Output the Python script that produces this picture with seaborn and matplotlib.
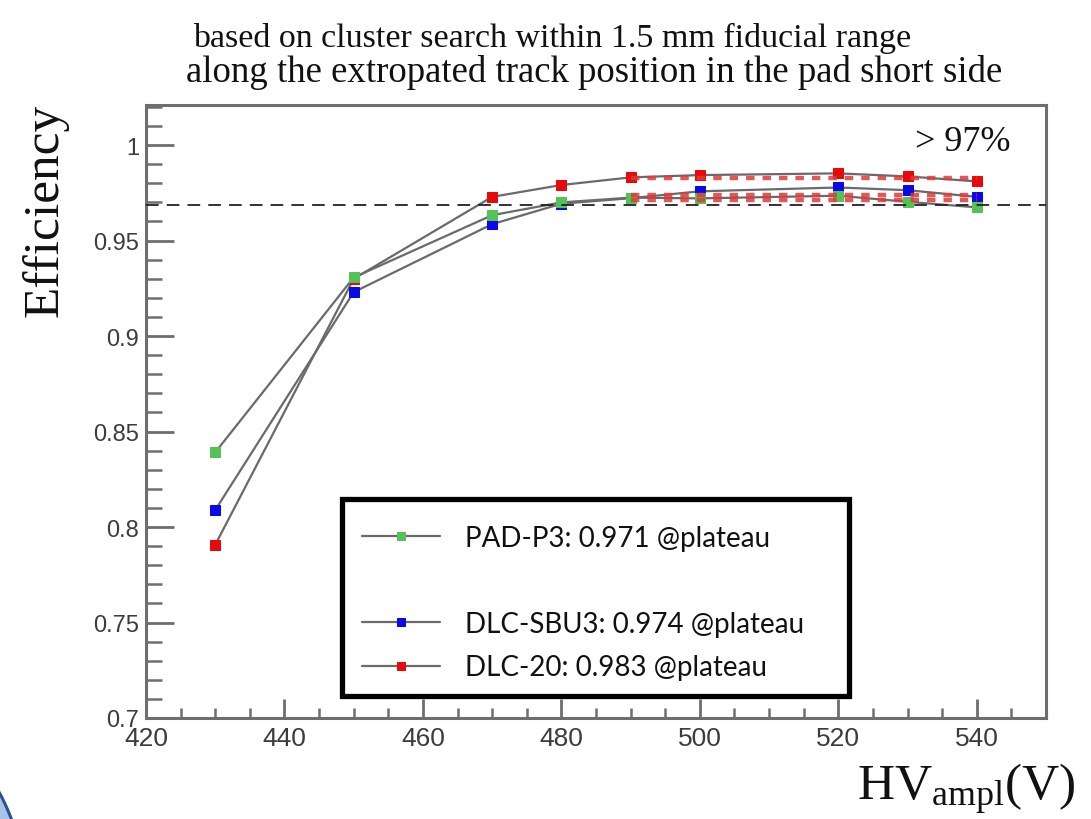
import matplotlib
matplotlib.use("Agg")
import matplotlib.pyplot as plt
from matplotlib.lines import Line2D
from matplotlib.patches import Circle, Rectangle
from matplotlib.transforms import IdentityTransform
from matplotlib.ticker import MultipleLocator, FixedLocator, FixedFormatter
import seaborn as sns
import pandas as pd

# HV scan points (V) and measured efficiencies
hv_pad = [430, 450, 470, 480, 490, 500, 520, 530, 540]
eff_pad = [0.8391, 0.9307, 0.9633, 0.9700, 0.9725, 0.9721, 0.9735, 0.9703, 0.9674]

hv_sbu3 = [430, 450, 470, 480, 490, 500, 520, 530, 540]
eff_sbu3 = [0.8089, 0.9230, 0.9586, 0.9693, 0.9722, 0.9758, 0.9778, 0.9764, 0.9729]

hv_dlc20 = [430, 450, 470, 480, 490, 500, 520, 530, 540]
eff_dlc20 = [0.7907, 0.9300, 0.9729, 0.9791, 0.9831, 0.9843, 0.9852, 0.9836, 0.9810]

series_names = ["PAD-P3", "DLC-SBU3", "DLC-20"]
plateau_values = [0.971, 0.974, 0.983]
plateau_range = [490, 540]
reference_level = 0.9685

marker_colors = {"PAD-P3": "#55c255", "DLC-SBU3": "#0a0ae6", "DLC-20": "#e60a0a"}

df = pd.concat([
    pd.DataFrame({"hv": hv_pad, "eff": eff_pad, "name": "PAD-P3"}),
    pd.DataFrame({"hv": hv_sbu3, "eff": eff_sbu3, "name": "DLC-SBU3"}),
    pd.DataFrame({"hv": hv_dlc20, "eff": eff_dlc20, "name": "DLC-20"}),
])

sns.set_theme(style="white")
plt.rcParams["font.family"] = ["Liberation Sans", "DejaVu Sans"]
plt.rcParams["mathtext.fontset"] = "custom"
plt.rcParams["mathtext.rm"] = "Liberation Serif"
plt.rcParams["mathtext.it"] = "Liberation Serif:italic"

W, H = 1091, 820
fig = plt.figure(figsize=(W / 100, H / 100), dpi=100)
fig.patch.set_facecolor("white")

ax_l, ax_r, ax_t, ax_b = 146, 1046, 106, 719
ax = fig.add_axes([ax_l / W, 1 - ax_b / H, (ax_r - ax_l) / W, (ax_b - ax_t) / H])
ax.set_facecolor("white")

line_gray = "#6a6a6a"
labels_map = {
    "PAD-P3": "PAD-P3: 0.971 @plateau",
    "DLC-SBU3": "DLC-SBU3: 0.974 @plateau",
    "DLC-20": "DLC-20: 0.983 @plateau",
}

# red first so the green markers sit on top where points coincide
for name in ["DLC-20", "DLC-SBU3", "PAD-P3"]:
    sub = df[df["name"] == name]
    c = marker_colors[name]
    sns.lineplot(data=sub, x="hv", y="eff", ax=ax, color=line_gray, lw=1.6,
                 marker="s", markersize=7, markerfacecolor=c, markeredgecolor=c,
                 label=labels_map[name], zorder=3)

# constant plateau fits
for val in plateau_values:
    sns.lineplot(x=plateau_range, y=[val, val], ax=ax, color="#e03a3a", lw=3.2,
                 linestyle=(0, (1.9, 1.8)), alpha=0.85, zorder=4, legend=False)

ax.axhline(reference_level, color="#222222", lw=1.3, linestyle=(0, (7, 4.5)), zorder=5)

ax.set_xlim(420, 550)
ax.set_ylim(0.7, 1.021)

ax.xaxis.set_major_locator(MultipleLocator(20))
ax.xaxis.set_minor_locator(MultipleLocator(5))
yt = [0.7, 0.75, 0.8, 0.85, 0.9, 0.95, 1.0]
ax.yaxis.set_major_locator(FixedLocator(yt))
ax.yaxis.set_major_formatter(FixedFormatter(["0.7", "0.75", "0.8", "0.85", "0.9", "0.95", "1"]))
ax.yaxis.set_minor_locator(MultipleLocator(0.01))

axis_gray = "#6e6e6e"
ax.tick_params(axis="x", which="major", direction="in", length=14, width=2,
               color=axis_gray, labelsize=19, labelcolor="#3c3c3c", pad=6,
               bottom=True, top=False)
ax.tick_params(axis="x", which="minor", direction="in", length=7.5, width=1.8,
               color=axis_gray, bottom=True, top=False)
ax.tick_params(axis="y", which="major", direction="in", length=20, width=2,
               color=axis_gray, labelsize=17, labelcolor="#3c3c3c", pad=5,
               left=True, right=False)
ax.tick_params(axis="y", which="minor", direction="in", length=11.5, width=1.8,
               color=axis_gray, left=True, right=False)
for s in ax.spines.values():
    s.set_color(axis_gray)
    s.set_linewidth(2.2)
    s.set_visible(True)

ax.set_xlabel("")
ax.set_ylabel("")

ax.text(538, 1.0017, "> 97%", fontsize=26, family="Liberation Serif",
        ha="center", va="center", color="#111111")

# legend: black box with a spacer row after the first entry
box = Rectangle((342, H - 697), 849 - 342, 697 - 500, transform=IdentityTransform(),
                facecolor="white", edgecolor="black", lw=3.8, zorder=6)
fig.patches.append(box)

handles, labels = ax.get_legend_handles_labels()
order = [labels.index(labels_map[n]) for n in series_names]
h = [handles[i] for i in order]
l = [labels[i] for i in order]
spacer = Line2D([], [], linestyle="none", marker=None)
h.insert(1, spacer)
l.insert(1, " ")
leg = fig.legend(h, l, loc="center left",
                 bbox_to_anchor=(362 / W, 1 - 603.5 / H),
                 bbox_transform=fig.transFigure,
                 prop={"family": "Lato", "size": 20}, frameon=False,
                 borderpad=0, labelspacing=0.62, handlelength=2.8,
                 handletextpad=0.9, markerscale=0.75, borderaxespad=0)
leg.set_zorder(7)
for t in leg.get_texts():
    t.set_color("#111111")
ax.get_legend().remove()

fig.text(552 / W, 1 - 38 / H, "based on cluster search within 1.5 mm fiducial range",
         fontsize=24.5, family="Liberation Serif", ha="center", va="center", color="#111111")
fig.text(594 / W, 1 - 72 / H, "along the extropated track position in the pad short side",
         fontsize=26.5, family="Liberation Serif", ha="center", va="center", color="#111111")

fig.text(45 / W, 1 - 210 / H, "Efficiency", fontsize=37, family="Liberation Serif",
         rotation=90, ha="center", va="center", color="#111111")

fig.text(1076 / W, 1 - 800 / H, r"HV$_{\mathrm{ampl}}$(V)", fontsize=37,
         family="Liberation Serif", ha="right", va="baseline", color="#111111")

# slide decoration in the lower-left corner
deco = Circle((-200, H - 900), 226, transform=IdentityTransform(),
              facecolor="#aac3ea", edgecolor="#2f528f", lw=2.2, zorder=0)
fig.patches.append(deco)

fig.savefig("out.png", dpi=100, facecolor="white")
